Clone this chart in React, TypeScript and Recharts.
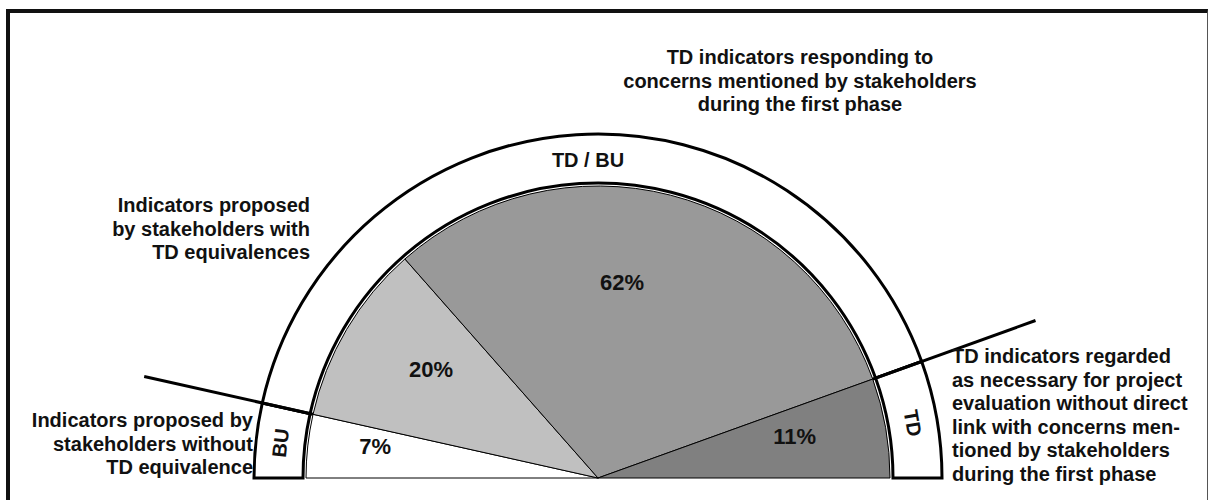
import { PieChart, Pie, Cell } from 'recharts'

// slices of the half pie, left to right
const SLICE_NAMES = [
  'Indicators proposed by stakeholders without TD equivalence',
  'Indicators proposed by stakeholders with TD equivalences',
  'TD indicators responding to concerns mentioned by stakeholders',
  'TD indicators regarded as necessary without direct link',
]
const SLICE_VALUES = [7, 20, 62, 11]
const SLICE_COLORS = ['#ffffff', '#c0c0c0', '#999999', '#808080']

// outer band
const RING_LABELS = ['BU', 'TD / BU', 'TD']
const RING_VALUES = [7, 82, 11]

// where the % labels sit (deg, px from centre)
const PCT_ANGLE = [172, 147, 83, 12]
const PCT_RADIUS = [225, 199, 197, 201]

const sliceData = SLICE_NAMES.map((name, i) => ({ name, value: SLICE_VALUES[i] }))
const ringData = RING_LABELS.map((name, i) => ({ name, value: RING_VALUES[i] }))

const RAD = Math.PI / 180
const FONT = '"Liberation Sans", Arial, sans-serif'
const CX = 598
const CY = 478
const PIE_R = 292
const RING_IN = 295
const RING_OUT = 344

const polar = (cx: number, cy: number, r: number, deg: number) => ({
  x: cx + r * Math.cos(deg * RAD),
  y: cy - r * Math.sin(deg * RAD),
})

// eslint-disable-next-line @typescript-eslint/no-explicit-any
const renderPct = (p: any) => {
  const { x, y } = polar(p.cx, p.cy, PCT_RADIUS[p.index], PCT_ANGLE[p.index])
  return (
    <text
      x={x}
      y={y}
      textAnchor="middle"
      dominantBaseline="central"
      fontFamily={FONT}
      fontWeight="bold"
      fontSize={22}
      fill="#111"
    >
      {p.value}%
    </text>
  )
}

// eslint-disable-next-line @typescript-eslint/no-explicit-any
const renderRing = (p: any) => {
  const { cx, cy, index, midAngle, endAngle } = p
  const mid = (RING_IN + RING_OUT) / 2
  let label
  if (index === 1) {
    label = (
      <text
        x={cx - 10}
        y={cy - 318}
        textAnchor="middle"
        dominantBaseline="central"
        fontFamily={FONT}
        fontWeight="bold"
        fontSize={20}
        fill="#111"
      >
        {RING_LABELS[index]}
      </text>
    )
  } else {
    const pt = polar(cx, cy, mid, midAngle)
    label = (
      <text
        x={pt.x}
        y={pt.y}
        textAnchor="middle"
        dominantBaseline="central"
        fontFamily={FONT}
        fontWeight="bold"
        fontSize={20}
        fill="#111"
        transform={`rotate(${90 - midAngle} ${pt.x} ${pt.y})`}
      >
        {RING_LABELS[index]}
      </text>
    )
  }
  let line = null
  if (index < 2) {
    const a = polar(cx, cy, PIE_R, endAngle)
    const b = polar(cx, cy, 465, endAngle)
    line = <line x1={a.x} y1={a.y} x2={b.x} y2={b.y} stroke="#000" strokeWidth={3} />
  }
  return (
    <g key={`ring-${index}`}>
      {line}
      {label}
    </g>
  )
}

const textStyle: React.CSSProperties = {
  position: 'absolute',
  fontFamily: FONT,
  fontWeight: 'bold',
  fontSize: 20,
  lineHeight: '23.5px',
  color: '#111',
  whiteSpace: 'nowrap',
}

export default function App() {
  return (
    <div style={{ position: 'absolute', left: 0, top: 0, width: 1211, height: 500, background: '#fff', overflow: 'hidden' }}>
      <div
        style={{
          position: 'absolute',
          left: 6,
          top: 9,
          width: 1197,
          height: 520,
          borderTop: '4px solid #111',
          borderLeft: '4px solid #111',
          borderRight: '1px solid #555',
        }}
      />
      <div style={{ position: 'absolute', left: 0, top: 0 }}>
        <PieChart width={1211} height={500} margin={{ top: 0, right: 0, bottom: 0, left: 0 }}>
          <Pie
            data={sliceData}
            dataKey="value"
            cx={CX}
            cy={CY}
            innerRadius={0}
            outerRadius={PIE_R}
            startAngle={180}
            endAngle={0}
            stroke="#000"
            strokeWidth={1}
            label={renderPct}
            labelLine={false}
            isAnimationActive={false}
          >
            {sliceData.map((d, i) => (
              <Cell key={d.name} fill={SLICE_COLORS[i]} />
            ))}
          </Pie>
          <Pie
            data={ringData}
            dataKey="value"
            cx={CX}
            cy={CY}
            innerRadius={RING_IN}
            outerRadius={RING_OUT}
            startAngle={180}
            endAngle={0}
            fill="#fff"
            stroke="#000"
            strokeWidth={3}
            label={renderRing}
            labelLine={false}
            isAnimationActive={false}
          />
        </PieChart>
      </div>

      <div style={{ ...textStyle, left: 550, top: 46, width: 500, textAlign: 'center' }}>
        TD indicators responding to
        <br />
        concerns mentioned by stakeholders
        <br />
        during the first phase
      </div>
      <div style={{ ...textStyle, left: 40, top: 194, width: 270, textAlign: 'right' }}>
        Indicators proposed
        <br />
        by stakeholders with
        <br />
        TD equivalences
      </div>
      <div style={{ ...textStyle, left: 13, top: 409, width: 240, textAlign: 'right' }}>
        Indicators proposed by
        <br />
        stakeholders without
        <br />
        TD equivalence
      </div>
      <div style={{ ...textStyle, left: 952, top: 345, textAlign: 'left' }}>
        TD indicators regarded
        <br />
        as necessary for project
        <br />
        evaluation without direct
        <br />
        link with concerns men-
        <br />
        tioned by stakeholders
        <br />
        during the first phase
      </div>
    </div>
  )
}
